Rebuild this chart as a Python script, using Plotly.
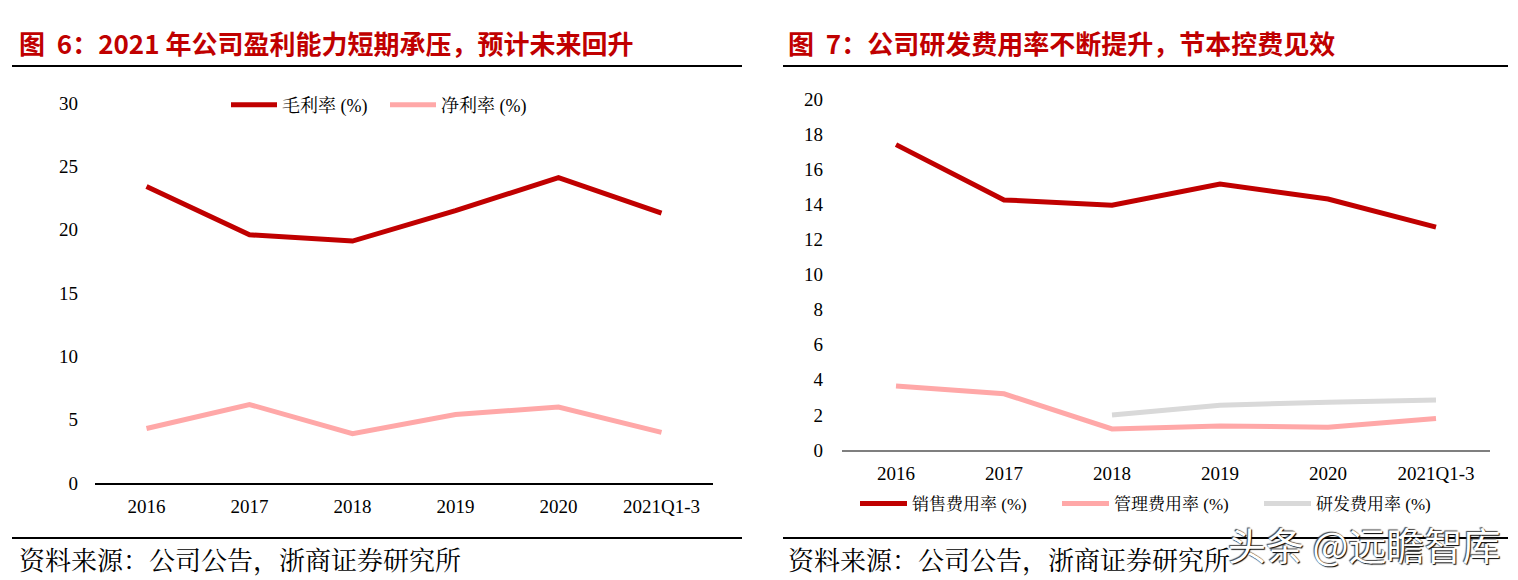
import plotly.graph_objects as go

W, H = 1518, 580

# ---------------- data ----------------
years = ["2016", "2017", "2018", "2019", "2020", "2021Q1-3"]
gross_margin = [23.4, 19.6, 19.1, 21.5, 24.1, 21.3]
net_margin = [4.3, 6.2, 3.9, 5.4, 6.0, 4.0]

sales_rate = [17.4, 14.25, 13.95, 15.15, 14.3, 12.7]
admin_rate = [3.65, 3.2, 1.2, 1.37, 1.3, 1.8]
rd_rate = [None, None, 2.0, 2.55, 2.72, 2.85]

title_left = "图  6：2021 年公司盈利能力短期承压，预计未来回升"
title_right = "图  7：公司研发费用率不断提升，节本控费见效"
source_text = "资料来源：公司公告，浙商证券研究所"
watermark = "头条 @远瞻智库"

RED = "#C00000"
PINK = "#FFA8A8"
GRAY = "#D9D9D9"
SERIF = "Liberation Serif, Noto Sans CJK SC, serif"
CJK_SERIF = "Liberation Serif, Noto Serif CJK SC, Noto Sans CJK SC, serif"


def px_x(x):
    return x / W


def px_y(y):
    return 1 - y / H


fig = go.Figure()

fig.add_trace(go.Scatter(x=years, y=gross_margin, name="毛利率 (%)", mode="lines",
                         line=dict(color=RED, width=5), xaxis="x", yaxis="y", legend="legend"))
fig.add_trace(go.Scatter(x=years, y=net_margin, name="净利率 (%)", mode="lines",
                         line=dict(color=PINK, width=5), xaxis="x", yaxis="y", legend="legend"))

fig.add_trace(go.Scatter(x=years, y=sales_rate, name="销售费用率 (%)", mode="lines",
                         line=dict(color=RED, width=5), xaxis="x2", yaxis="y2", legend="legend2"))
fig.add_trace(go.Scatter(x=years, y=admin_rate, name="管理费用率 (%)", mode="lines",
                         line=dict(color=PINK, width=5), xaxis="x2", yaxis="y2", legend="legend2"))
fig.add_trace(go.Scatter(x=years, y=rd_rate, name="研发费用率 (%)", mode="lines",
                         line=dict(color=GRAY, width=5), xaxis="x2", yaxis="y2", legend="legend2"))

tickfont = dict(family=SERIF, size=19, color="#000")

fig.update_layout(
    width=W, height=H,
    margin=dict(l=0, r=0, t=0, b=0, autoexpand=False),
    paper_bgcolor="white", plot_bgcolor="white",
    xaxis=dict(domain=[px_x(95), px_x(713)], anchor="y", type="category",
               range=[-0.5, 5.5], showgrid=False, zeroline=False,
               showline=True, linecolor="#000", linewidth=1.5,
               ticks="", tickfont=tickfont, ticklabelstandoff=5, automargin=False),
    yaxis=dict(domain=[px_y(483), px_y(103)], anchor="x", range=[0, 30],
               tickvals=[0, 5, 10, 15, 20, 25, 30], showgrid=False, zeroline=False,
               showline=False, ticks="", tickfont=tickfont, ticklabelstandoff=16,
               automargin=False),
    xaxis2=dict(domain=[px_x(842), px_x(1490)], anchor="y2", type="category",
                range=[-0.5, 5.5], showgrid=False, zeroline=False,
                showline=True, linecolor="#7f7f7f", linewidth=1.5,
                ticks="", tickfont=tickfont, ticklabelstandoff=5, automargin=False),
    yaxis2=dict(domain=[px_y(450), px_y(99)], anchor="x2", range=[0, 20],
                tickvals=list(range(0, 21, 2)), showgrid=False, zeroline=False,
                showline=False, ticks="", tickfont=tickfont, ticklabelstandoff=18,
                automargin=False),
    legend=dict(orientation="h", x=px_x(226), y=px_y(105), xanchor="left", yanchor="middle",
                font=dict(family=CJK_SERIF, size=18, color="#000"),
                itemwidth=46, entrywidth=98, bgcolor="rgba(0,0,0,0)"),
    legend2=dict(orientation="h", x=px_x(855), y=px_y(504), xanchor="left", yanchor="middle",
                 font=dict(family=CJK_SERIF, size=17, color="#000"),
                 itemwidth=47, entrywidth=140, bgcolor="rgba(0,0,0,0)"),
    showlegend=True,
)

shapes = []
for x0, x1 in [(12, 742), (783, 1508)]:
    for y in [66, 538]:
        shapes.append(dict(type="line", xref="paper", yref="paper",
                           x0=px_x(x0), x1=px_x(x1), y0=px_y(y), y1=px_y(y),
                           line=dict(color="#000", width=2)))
fig.update_layout(shapes=shapes)

title_font = dict(family="Noto Sans CJK SC, sans-serif", size=26, color=RED, weight="bold")
source_font = dict(family=CJK_SERIF, size=26, color="#000")
annotations = [
    dict(text=title_left, x=px_x(17), y=px_y(42), xref="paper", yref="paper",
         xanchor="left", yanchor="middle", showarrow=False, font=title_font),
    dict(text=title_right, x=px_x(786), y=px_y(42), xref="paper", yref="paper",
         xanchor="left", yanchor="middle", showarrow=False, font=title_font),
    dict(text=source_text, x=px_x(17), y=px_y(561), xref="paper", yref="paper",
         xanchor="left", yanchor="middle", showarrow=False, font=source_font),
    dict(text=source_text, x=px_x(786), y=px_y(561), xref="paper", yref="paper",
         xanchor="left", yanchor="middle", showarrow=False, font=source_font),
    dict(text=watermark, x=px_x(1502), y=px_y(543), xref="paper", yref="paper",
         xanchor="right", yanchor="middle", showarrow=False,
         font=dict(family="Noto Sans CJK SC, sans-serif", size=38, color="#ffffff",
                   shadow="1px 1px 1px #000, -1px -1px 1px #444")),
]
fig.update_layout(annotations=annotations)

fig.write_html("out.html")
